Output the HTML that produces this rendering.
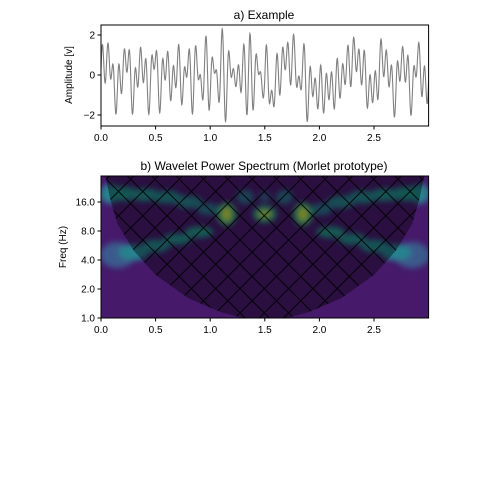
<!DOCTYPE html>
<html><head><meta charset="utf-8"><style>
html,body{margin:0;padding:0;background:#fff;width:504px;height:504px;overflow:hidden}
text{font-family:"Liberation Sans","DejaVu Sans",sans-serif;fill:#000}
</style></head><body>
<svg id="svg" width="504" height="504" viewBox="0 0 504 504">
<defs>
<clipPath id="clipTop"><rect x="101" y="25" width="327.6" height="101"/></clipPath>
<clipPath id="clipBot"><rect x="101" y="176" width="327.6" height="142"/></clipPath>
<filter id="blur" x="-50%" y="-50%" width="200%" height="200%"><feGaussianBlur stdDeviation="3"/></filter>
<pattern id="hatch" x="215.7" y="240" width="24.3" height="24.3" patternUnits="userSpaceOnUse">
<path d="M0,0 L24.3,24.3 M24.3,0 L0,24.3" stroke="#000" stroke-width="0.9"/>
</pattern>
</defs>
<g id="gtop"></g>
<g id="gbot"></g>
<text x="264" y="19" font-size="12" text-anchor="middle">a) Example</text>
<text x="264" y="170" font-size="12" text-anchor="middle">b)  Wavelet Power Spectrum (Morlet prototype)</text>
<text transform="translate(72,75) rotate(-90)" font-size="10" text-anchor="middle">Amplitude [v]</text>
<text transform="translate(66,247) rotate(-90)" font-size="10" text-anchor="middle">Freq (Hz)</text>
</svg>
<script>
// ---- data ----
const toneFreqs = [20, 12.5];
const toneAmps = [0.9, 0.35];
const chirpStartFreq = [4.5];
const chirpMidFreq = [11];
const chirpAmp = [0.85];
const burstTimes = [1.15, 1.5, 1.85];
const burstFreq = [12];
const burstAmp = [0.9];
const xTicks = [0, 0.5, 1.0, 1.5, 2.0, 2.5];
const xTickLabels = ["0.0","0.5","1.0","1.5","2.0","2.5"];
const yTicksTop = [-2, 0, 2];
const yTickLabelsTop = ["\u22122","0","2"];
const freqTicks = [1, 2, 4, 8, 16];
const freqTickLabels = ["1.0","2.0","4.0","8.0","16.0"];
const blobT = [0.15, 2.85, 0.3, 2.7, 0.5, 2.5, 0.7, 2.3, 0.9, 2.1, 0.08, 2.92, 0.2, 2.8, 0.4, 2.6, 0.6, 2.4, 0.8, 2.2, 0.98, 2.02, 1.15, 1.5, 1.85, 1.15, 1.5, 1.85, 1.32, 1.68, 1.5];
const blobF = [4.5, 4.5, 4.8, 4.8, 5.6, 5.6, 6.6, 6.6, 7.8, 7.8, 19.5, 19.5, 19.5, 19.5, 19, 19, 18, 18, 16, 16, 13.5, 13.5, 12, 12, 12, 12, 12, 12, 18, 18, 18];
const blobRx = [0.16, 0.16, 0.14, 0.14, 0.13, 0.13, 0.13, 0.13, 0.13, 0.13, 0.09, 0.09, 0.14, 0.14, 0.14, 0.14, 0.14, 0.14, 0.13, 0.13, 0.1, 0.1, 0.09, 0.11, 0.09, 0.035, 0.06, 0.035, 0.08, 0.08, 0.05];
const blobRy = [0.45, 0.45, 0.28, 0.28, 0.22, 0.22, 0.2, 0.2, 0.2, 0.2, 0.35, 0.35, 0.25, 0.25, 0.22, 0.22, 0.22, 0.22, 0.22, 0.22, 0.22, 0.22, 0.4, 0.3, 0.4, 0.22, 0.12, 0.22, 0.25, 0.25, 0.2];
const blobC = ["#3b5a8c","#3b5a8c","#26828e","#26828e","#23898e","#23898e","#21908d","#21908d","#22958b","#22958b","#2a7a8e","#2a7a8e","#1f9088","#1f9088","#21908d","#21908d","#22888d","#22888d","#26828e","#26828e","#2c728e","#2c728e","#35b779","#2aa383","#35b779","#d8e219","#b5de2b","#d8e219","#2e6e8e","#2e6e8e","#355e8d"];
const coiT = [0.04, 0.08, 0.15, 0.3, 0.5, 0.8, 1.1, 1.3, 1.7, 1.9, 2.2, 2.5, 2.7, 2.85, 2.92, 2.96];
const coiF = [30, 18, 9.5, 5, 2.8, 1.6, 1.15, 1.0, 1.0, 1.15, 1.6, 2.8, 5, 9.5, 18, 30];

const NS = "http://www.w3.org/2000/svg";
function el(tag, attrs, parent){const e=document.createElementNS(NS,tag);for(const k in attrs)e.setAttribute(k,attrs[k]);parent.appendChild(e);return e;}
const X = t => 101 + t * 109.2;
const Ytop = v => 75 - v * 20;
const Yf = f => 318 - Math.log2(f) * 29;
const gTop = document.getElementById('gtop'), gBot = document.getElementById('gbot');

let pts = [];
for (let t = 0; t <= 3.0; t += 0.002) {
  let v = 0;
  for (let i = 0; i < toneFreqs.length; i++) v += toneAmps[i] * Math.sin(2*Math.PI*toneFreqs[i]*t + i);
  const d = Math.abs(t - 1.5) / 1.5;
  const fc = chirpMidFreq[0] + (chirpStartFreq[0]-chirpMidFreq[0]) * d;
  v += chirpAmp[0] * Math.sin(2*Math.PI*fc*t);
  for (const bt of burstTimes) v += burstAmp[0] * Math.exp(-Math.pow((t-bt)/0.08,2)) * Math.sin(2*Math.PI*burstFreq[0]*t);
  pts.push(X(t).toFixed(2)+','+Ytop(v).toFixed(2));
}
const g1 = el('g',{'clip-path':'url(#clipTop)'},gTop);
const line = el('polyline',{points:pts.join(' '),fill:'none',stroke:'#808080','stroke-width':1.1},g1);



const g2 = el('g',{'clip-path':'url(#clipBot)'},gBot);
el('rect',{x:101,y:176,width:327.6,height:142,fill:'#46196b'},g2);
const gb = el('g',{filter:'url(#blur)'},g2);
for (let i = 0; i < blobT.length; i++) {
  const e = el('ellipse',{cx:X(blobT[i]),cy:Yf(blobF[i]),rx:blobRx[i]*109.2,ry:blobRy[i]*29,fill:blobC[i]},gb);
  
  
}
let cp = coiT.map((t,i)=>X(t).toFixed(1)+','+Yf(coiF[i]).toFixed(1));
cp.push(X(coiT[coiT.length-1])+',150'); cp.push(X(coiT[0])+',150');
const cone = el('polygon',{points:cp.join(' '),fill:'rgba(0,0,0,0.4)'},g2);


el('polygon',{points:cp.join(' '),fill:'url(#hatch)'},g2);

function frame(parent,y0,h){el('rect',{x:101,y:y0,width:327.6,height:h,fill:'none',stroke:'#000','stroke-width':1},parent);}
frame(gTop,25,101); frame(gBot,176,142);
function xAxis(parent,yb){
  xTicks.forEach((t,i)=>{
    el('line',{x1:X(t),x2:X(t),y1:yb,y2:yb+3.5,stroke:'#000'},parent);
    const tx=el('text',{x:X(t),y:yb+15,'font-size':10,'text-anchor':'middle'},parent);tx.textContent=xTickLabels[i];
    
    
  });
}
xAxis(gTop,126); xAxis(gBot,318);
yTicksTop.forEach((v,i)=>{
  el('line',{x1:97.5,x2:101,y1:Ytop(v),y2:Ytop(v),stroke:'#000'},gTop);
  const tx=el('text',{x:95,y:Ytop(v)+3.5,'font-size':10,'text-anchor':'end'},gTop);tx.textContent=yTickLabelsTop[i];
  
  
});
freqTicks.forEach((f,i)=>{
  el('line',{x1:97.5,x2:101,y1:Yf(f),y2:Yf(f),stroke:'#000'},gBot);
  const tx=el('text',{x:95,y:Yf(f)+3.5,'font-size':10,'text-anchor':'end'},gBot);tx.textContent=freqTickLabels[i];
  
  
});
</script>
</body></html>
